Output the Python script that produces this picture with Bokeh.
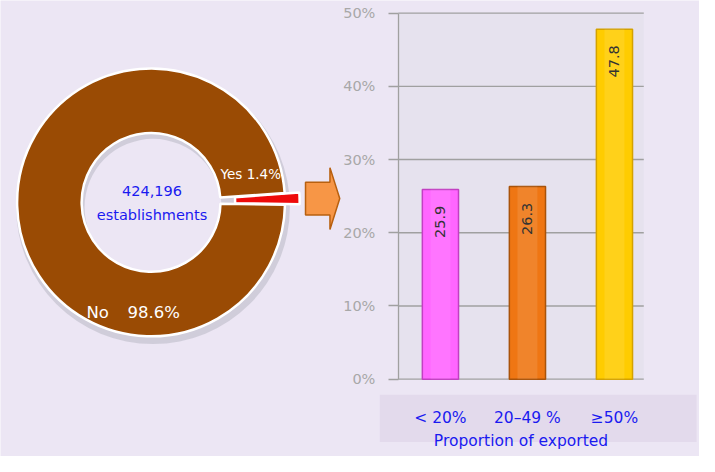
import numpy as np
from bokeh.plotting import figure
from bokeh.models import (Range1d, LinearAxis, FixedTicker, PrintfTickFormatter,
                          ColumnDataSource)
from bokeh.core.properties import value
from bokeh.embed import file_html
from bokeh.resources import INLINE

# ---------------- data ----------------
donut_labels = ["Yes", "No"]
donut_shares = [1.4, 98.6]
donut_total = "424,196"
donut_unit = "establishments"

bar_categories = ["< 20%", "20\u201349 %", "\u226550%"]
bar_values = [25.9, 26.3, 47.8]
y_ticks = [0, 10, 20, 30, 40, 50]
x_title = "Proportion of exported"

# ---------------- styles ----------------
bar_colors = ["#FF66FF", "#EF7613", "#FFCC00"]
bar_edges = ["#C23FC2", "#A9530A", "#D4A200"]
BG = "#ECE6F4"
PLOT_BG = "#E6E2EE"
BOX_BG = "#E3DAEC"
BROWN = "#9A4B04"
RED = "#EE0A0A"
BLUE = "#1A1AF0"
GRAY = "#A0A0A0"
FONT = value("DejaVu Sans")

W, H = 699, 456          # figure size
REF_W, REF_H = 715, 472  # layout design space (pixels of the design)

p = figure(width=W, height=H, x_range=Range1d(0, REF_W), y_range=Range1d(-REF_H, 0),
           x_axis_type=None, y_axis_type=None, output_backend="svg",
           toolbar_location=None, min_border=0)
p.background_fill_color = BG
p.border_fill_color = BG
p.outline_line_color = None

# ---------------- bar chart ranges (design-space geometry) ----------------
CAT_STEP = 89.0    # design px per category step
CAT1_X = 450.0     # design x of first category
PCT_PX = 7.58      # design px per percent
PCT0_Y = 392.0     # design y (from top) of 0%
p.extra_x_ranges = {"cat": Range1d(1 - CAT1_X / CAT_STEP, 1 + (REF_W - CAT1_X) / CAT_STEP)}
p.extra_y_ranges = {"pct": Range1d((PCT0_Y - REF_H) / PCT_PX, PCT0_Y / PCT_PX)}
c_left = 1 - 43 / CAT_STEP
c_right = len(bar_values) + 30 / CAT_STEP
kw = dict(x_range_name="cat", y_range_name="pct")

# label box below the chart
p.quad(left=1 - 62 / CAT_STEP, right=1 + 262 / CAT_STEP, bottom=-65 / PCT_PX,
       top=-16 / PCT_PX, fill_color=BOX_BG, line_color=None, **kw)
# plot area
p.quad(left=c_left, right=c_right, bottom=0, top=max(y_ticks),
       fill_color=PLOT_BG, line_color=None, **kw)
# grid lines
p.segment(x0=c_left, x1=c_right, y0=y_ticks, y1=y_ticks, line_color=GRAY,
          line_width=1.3, **kw)

yax = LinearAxis(fixed_location=c_left, ticker=FixedTicker(ticks=y_ticks),
                 formatter=PrintfTickFormatter(format="%d%%"), bounds=(0, max(y_ticks)),
                 axis_line_color=GRAY, axis_line_width=1.3,
                 major_tick_line_color=GRAY, major_tick_line_width=1.3,
                 major_tick_out=10, major_tick_in=0, minor_tick_line_color=None,
                 major_label_text_color="#A8A8A8", major_label_text_font_size="14.5px",
                 major_label_text_font="DejaVu Sans", major_label_standoff=13, **kw)
p.add_layout(yax, "left")

xs = list(range(1, len(bar_values) + 1))
xax = LinearAxis(fixed_location=0, ticker=FixedTicker(ticks=xs),
                 major_label_overrides={x: c for x, c in zip(xs, bar_categories)},
                 bounds=(c_left, c_right), axis_line_color=None,
                 major_tick_line_color=None, minor_tick_line_color=None,
                 major_tick_out=0, major_tick_in=0,
                 major_label_standoff=30, major_label_text_color=BLUE,
                 major_label_text_font_size="15.5px", major_label_text_font="DejaVu Sans",
                 axis_label=x_title, axis_label_standoff=1,
                 axis_label_text_color=BLUE, axis_label_text_font_size="15.5px",
                 axis_label_text_font="DejaVu Sans", axis_label_text_font_style="normal",
                 **kw)
p.add_layout(xax, "below")

src = ColumnDataSource(dict(x=xs, top=bar_values, color=bar_colors, edge=bar_edges,
                            lab=[f"{v:.1f}" for v in bar_values],
                            laby=[v - 2.2 for v in bar_values]))
bw = 37 / CAT_STEP
p.vbar(x="x", top="top", bottom=0, width=bw, fill_color="color", line_color="edge",
       line_width=1.5, source=src, **kw)
p.vbar(x="x", top="top", bottom=0, width=bw * 0.55, fill_color="white", fill_alpha=0.1,
       line_color=None, source=src, **kw)
p.text(x="x", y="laby", text="lab", angle=np.pi / 2, text_align="right",
       text_baseline="middle", text_font_size="14.5px", text_color="#333333",
       text_font=FONT, source=src, **kw)

# ---------------- donut (design space, y = -design_y) ----------------
cx, cy = 154.0, -209.0
r_in, r_out = 71.0, 137.0
start = np.deg2rad(-1.0)
edges = start + np.deg2rad(np.concatenate([[0], np.cumsum(donut_shares)]) * 3.6)
starts, ends = edges[:-1], edges[1:]
mids = (starts + ends) / 2
explode = [15.0, 0.0]
dx = [cx + e * np.cos(m) for e, m in zip(explode, mids)]
dy = [cy + e * np.sin(m) for e, m in zip(explode, mids)]

# shadow
p.annulus(x=cx + 2, y=cy - 5, inner_radius=r_in - 1, outer_radius=r_out + 3,
          fill_color="#C9C7D3", fill_alpha=0.8, line_color=None)
wsrc = ColumnDataSource(dict(x=dx, y=dy, s=starts, e=ends, color=[RED, BROWN]))
p.annular_wedge(x="x", y="y", inner_radius=r_in, outer_radius=r_out, start_angle="s",
                end_angle="e", fill_color="color", line_color="white", line_width=2.5,
                source=wsrc)

p.text(x=cx + 1, y=cy + 12, text=[donut_total], text_align="center",
       text_baseline="middle", text_font_size="14.5px", text_color=BLUE, text_font=FONT)
p.text(x=cx + 1, y=cy - 13, text=[donut_unit], text_align="center",
       text_baseline="middle", text_font_size="14.5px", text_color=BLUE, text_font=FONT)
p.text(x=cx + 102, y=cy + 29, text=[f"{donut_labels[0]} {donut_shares[0]}%"],
       text_align="center", text_baseline="middle", text_font_size="13.5px",
       text_color="white", text_font=FONT)
p.text(x=[cx - 66, cx - 24], y=cy - 114,
       text=[donut_labels[1], f"{donut_shares[1]}%"],
       text_align="left", text_baseline="middle", text_font_size="16.5px",
       text_color="white", text_font=FONT)

# arrow from donut to bars (design space)
ax_ref = [312, 337, 337, 347, 337, 337, 312]
ay_ref = [188, 188, 173, 205, 237, 222, 222]
p.patch(x=ax_ref, y=[-a for a in ay_ref], fill_color="#F79646",
        line_color="#B8600F", line_width=1.5)

html = file_html(p, INLINE)
html = html.replace("<body>", f'<body style="background-color:{BG};">', 1)
open("out.html", "w").write(html)
